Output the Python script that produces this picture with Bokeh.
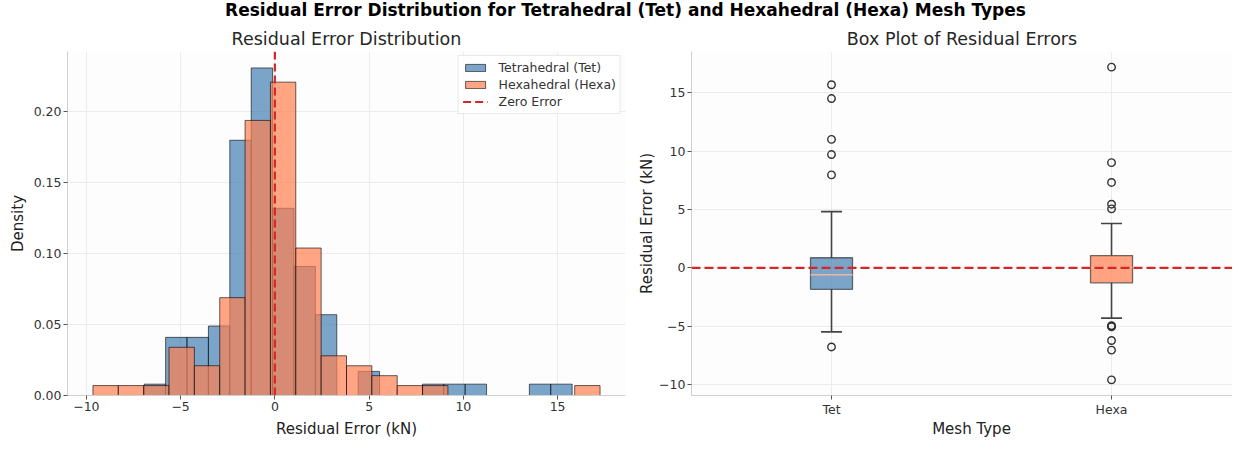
from bokeh.plotting import figure
from bokeh.models import Span, Legend, LegendItem, FixedTicker, Range1d, NumeralTickFormatter
from bokeh.layouts import column, row
from bokeh.embed import file_html
from bokeh.resources import INLINE
from bokeh.core.properties import value

# ---------------- data ----------------
suptitle = "Residual Error Distribution for Tetrahedral (Tet) and Hexahedral (Hexa) Mesh Types"

tet_bin_start = -6.93
tet_bin_width = 1.135
tet_density = [0.008, 0.041, 0.041, 0.049, 0.180, 0.231, 0.132, 0.091, 0.057, 0.0,
               0.017, 0.0, 0.0, 0.008, 0.008, 0.008, 0.0, 0.0, 0.008, 0.008]

hexa_bin_start = -9.65
hexa_bin_width = 1.345
hexa_density = [0.007, 0.007, 0.007, 0.034, 0.021, 0.069, 0.194, 0.221, 0.104, 0.028,
                0.021, 0.014, 0.007, 0.007, 0.0, 0.0, 0.0, 0.0, 0.0, 0.007]

hist_x_ticks = [-10, -5, 0, 5, 10, 15]
hist_y_ticks = [0.0, 0.05, 0.10, 0.15, 0.20]

mesh_types = ["Tet", "Hexa"]
box_q1 = [-1.84, -1.29]
box_median = [-0.60, 0.02]
box_q3 = [0.86, 1.05]
whisker_low = [-5.49, -4.31]
whisker_high = [4.81, 3.79]
tet_outliers = [15.68, 14.50, 11.00, 9.70, 7.96, -6.78]
hexa_outliers = [17.19, 9.01, 7.31, 5.45, 5.05, -4.95, -5.00, -5.05, -6.23, -7.05, -9.60]
box_y_ticks = [-10, -5, 0, 5, 10, 15]

x_labels = ["Residual Error (kN)", "Mesh Type"]
zero_error = 0.0

# ---------------- layout / style ----------------
FONT = "DejaVu Sans"
TET_COLOR = "steelblue"
HEXA_COLOR = "coral"
ZERO_COLOR = "#d62728"

TOTAL_W = 1232
TOP_H = 21
BOTTOM_H = 20
PLOT_H = 439 - TOP_H - BOTTOM_H
BORDER_TOP = 30
BORDER_BOTTOM = 21
P1_W, P1_LEFT, P1_RIGHT = 630, 67, 5
P2_W, P2_LEFT = TOTAL_W - 630, 61


def style_axes(p):
    p.outline_line_color = None
    p.background_fill_color = "#fdfdfd"
    p.border_fill_color = "white"
    p.grid.grid_line_color = "#ececec"
    p.grid.grid_line_width = 1
    for ax in p.axis:
        ax.axis_line_color = "#d0d0d0"
        ax.axis_line_width = 1
        ax.major_tick_line_color = "#555555"
        ax.major_tick_out = 4
        ax.major_tick_in = 0
        ax.minor_tick_line_color = None
        ax.major_label_text_font = FONT
        ax.major_label_text_font_size = "12.5px"
        ax.major_label_text_color = "#333333"
        ax.major_label_standoff = 2
        ax.axis_label_text_font = FONT
        ax.axis_label_text_font_size = "15px"
        ax.axis_label_text_font_style = "normal"
        ax.axis_label_text_color = "#222222"
    p.title.align = "center"
    p.title.text_font = FONT
    p.title.text_font_size = "17.5px"
    p.title.text_font_style = "normal"
    p.title.text_color = "#262626"
    p.title.standoff = 6


def strip(height):
    s = figure(width=TOTAL_W, height=height, x_range=(0, TOTAL_W), y_range=(0, height),
               x_axis_type=None, y_axis_type=None, toolbar_location=None,
               output_backend="svg", min_border=0)
    s.outline_line_color = None
    s.grid.visible = False
    return s


# ---------------- suptitle ----------------
p0 = strip(TOP_H)
p0.text(x=[TOTAL_W / 2 + 9], y=[TOP_H / 2 + 1], text=[suptitle], text_align="center",
        text_baseline="middle", text_font=value(FONT), text_font_style="bold",
        text_font_size="17px", text_color="black")

# ---------------- histogram ----------------
p1 = figure(width=P1_W, height=PLOT_H, x_range=Range1d(-11.0, 18.6), y_range=Range1d(0, 0.2426),
            title="Residual Error Distribution", toolbar_location=None, output_backend="svg",
            min_border_left=P1_LEFT, min_border_right=P1_RIGHT, min_border_top=BORDER_TOP,
            min_border_bottom=BORDER_BOTTOM)
style_axes(p1)

tet_left = [tet_bin_start + i * tet_bin_width for i in range(len(tet_density))]
tet_keep = [i for i, d in enumerate(tet_density) if d > 0]
r_tet = p1.quad(left=[tet_left[i] for i in tet_keep],
                right=[tet_left[i] + tet_bin_width for i in tet_keep],
                bottom=0, top=[tet_density[i] for i in tet_keep],
                fill_color=TET_COLOR, fill_alpha=0.72, line_color="black", line_alpha=0.6,
                line_width=1)

hexa_left = [hexa_bin_start + i * hexa_bin_width for i in range(len(hexa_density))]
hexa_keep = [i for i, d in enumerate(hexa_density) if d > 0]
r_hexa = p1.quad(left=[hexa_left[i] for i in hexa_keep],
                 right=[hexa_left[i] + hexa_bin_width for i in hexa_keep],
                 bottom=0, top=[hexa_density[i] for i in hexa_keep],
                 fill_color=HEXA_COLOR, fill_alpha=0.7, line_color="black", line_alpha=0.6,
                 line_width=1)

p1.add_layout(Span(location=zero_error, dimension="height", line_color=ZERO_COLOR,
                   line_width=2.2, line_dash="8 4"))
r_zero = p1.line(x=[zero_error, zero_error], y=[0, 0], line_color=ZERO_COLOR,
                 line_width=2.2, line_dash="8 4")

p1.xaxis.ticker = FixedTicker(ticks=hist_x_ticks)
p1.yaxis.ticker = FixedTicker(ticks=hist_y_ticks)
p1.yaxis.formatter = NumeralTickFormatter(format="0.00")
p1.yaxis.axis_label = "Density"
p1.yaxis.axis_label_standoff = 4

legend = Legend(items=[LegendItem(label="Tetrahedral (Tet)", renderers=[r_tet]),
                       LegendItem(label="Hexahedral (Hexa)", renderers=[r_hexa]),
                       LegendItem(label="Zero Error", renderers=[r_zero])],
                location="top_right")
legend.label_text_font = FONT
legend.label_text_font_size = "12.5px"
legend.label_text_color = "#333333"
legend.border_line_color = "#d4d4d4"
legend.border_line_width = 1
legend.background_fill_alpha = 0.9
legend.padding = 4
legend.spacing = 2
legend.margin = 4
legend.label_standoff = 11
legend.glyph_width = 25
legend.glyph_height = 9
legend.label_height = 15
p1.add_layout(legend)

# ---------------- box plot ----------------
p2 = figure(width=P2_W, height=PLOT_H, x_range=Range1d(0.5, 2.432), y_range=Range1d(-10.94, 18.53),
            title="Box Plot of Residual Errors", toolbar_location=None, output_backend="svg",
            min_border_left=P2_LEFT, min_border_right=0, min_border_top=BORDER_TOP,
            min_border_bottom=BORDER_BOTTOM)
style_axes(p2)

positions = [i + 1 for i in range(len(mesh_types))]
box_half = 0.075
cap_half = 0.0375
box_colors = [TET_COLOR, HEXA_COLOR]

p2.segment(x0=positions, y0=box_q3, x1=positions, y1=whisker_high, line_color="#444444", line_width=1.6)
p2.segment(x0=positions, y0=box_q1, x1=positions, y1=whisker_low, line_color="#444444", line_width=1.6)
p2.segment(x0=[x - cap_half for x in positions], y0=whisker_high,
           x1=[x + cap_half for x in positions], y1=whisker_high, line_color="#444444", line_width=1.6)
p2.segment(x0=[x - cap_half for x in positions], y0=whisker_low,
           x1=[x + cap_half for x in positions], y1=whisker_low, line_color="#444444", line_width=1.6)
p2.quad(left=[x - box_half for x in positions], right=[x + box_half for x in positions],
        bottom=box_q1, top=box_q3, fill_color=box_colors, fill_alpha=0.72,
        line_color="#333333", line_alpha=0.7, line_width=1.3)
p2.segment(x0=[x - box_half for x in positions], y0=box_median,
           x1=[x + box_half for x in positions], y1=box_median, line_color="#f2b3a0", line_width=1.6)

all_out = [tet_outliers, hexa_outliers]
ox, oy = [], []
for pos, outs in zip(positions, all_out):
    for v in outs:
        ox.append(pos)
        oy.append(v)
p2.scatter(x=ox, y=oy, marker="circle", size=7.5, fill_color=None, line_color="#333333",
           line_width=1.4)

p2.add_layout(Span(location=zero_error, dimension="width", line_color=ZERO_COLOR,
                   line_width=2.2, line_dash="9 4"))

p2.xaxis.ticker = FixedTicker(ticks=positions)
p2.xaxis.major_label_overrides = {pos: name for pos, name in zip(positions, mesh_types)}
p2.yaxis.ticker = FixedTicker(ticks=box_y_ticks)
p2.yaxis.axis_label = "Residual Error (kN)"
p2.yaxis.axis_label_standoff = 0

# ---------------- x-axis titles (strip below both panels) ----------------
p3 = strip(BOTTOM_H)
xlabel_pos = [P1_LEFT + (P1_W - P1_LEFT - P1_RIGHT) / 2, P1_W + P2_LEFT + 280]
p3.text(x=xlabel_pos, y=[BOTTOM_H / 2 + 1] * 2, text=x_labels, text_align="center",
        text_baseline="middle", text_font=value(FONT), text_font_size="15px",
        text_color="#222222")

layout = column(p0, row(p1, p2), p3)
open("out.html", "w").write(file_html(layout, INLINE))
